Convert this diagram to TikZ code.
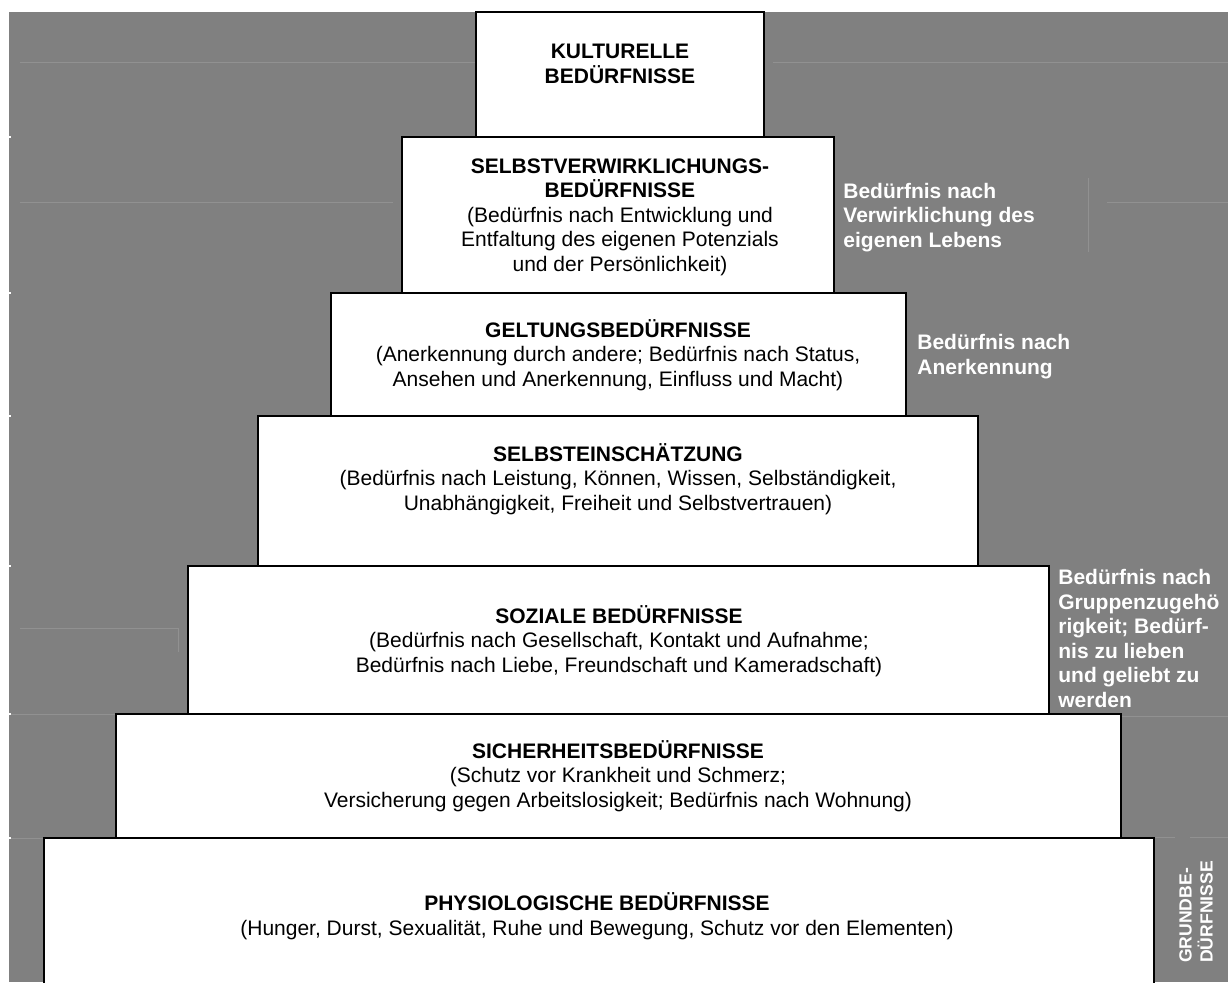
\documentclass[tikz,border=0pt]{standalone}
\usepackage{fontspec}
\setmainfont{Liberation Sans}
\definecolor{hintergrund}{gray}{0.5}
\definecolor{haarlinie}{gray}{0.57}
\tikzset{
  stufe/.style={draw=black, line width=0.75pt, fill=white},
  titel/.style={anchor=base, align=center, inner sep=0pt, font=\fontsize{10.5}{12.25}\selectfont},
  randtext/.style={anchor=base west, align=left, inner sep=0pt, text=white, font=\fontsize{10.5}{12.25}\selectfont\bfseries},
  haar/.style={draw=haarlinie, line width=0.5pt},
  kerbe/.style={draw=white, line width=0.6pt},
}

\begin{document}
\begin{tikzpicture}[x=0.5pt,y=-0.5pt]
            \useasboundingbox (0,0) rectangle (1228,982);

            %Background
            \fill[hintergrund] (9,12) rectangle (1228,982);
            \draw[haar] (20,62)    -- (476,62);
            \draw[haar] (773,62)   -- (1228,62);
            \draw[haar] (20,202)   -- (393,202);
            \draw[haar] (1107,202) -- (1228,202);
            \draw[haar] (1088,178) -- (1088,252);
            \draw[haar] (20,628)   -- (178,628) -- (178,652);
            \draw[haar] (9,714)    -- (116,714);
            \draw[haar] (1049,716) -- (1228,716);
            \draw[haar] (9,838)    -- (44,838);
            \draw[haar] (1154,837) -- (1175,837);
            \draw[haar] (1190,837) -- (1228,837);
            \foreach \y in {137,293,416,566,714,838}
                \draw[kerbe] (9,\y) -- (11,\y);

            %Boxes
            \draw[stufe] (476,12)  rectangle (764,137);
            \draw[stufe] (402,137) rectangle (834,293);
            \draw[stufe] (331,293) rectangle (906,416);
            \draw[stufe] (258,416) rectangle (978,566);
            \draw[stufe] (188,566) rectangle (1049,714);
            \draw[stufe] (116,714) rectangle (1121,838);
            \draw[stufe] (44,838)  rectangle (1154,995);

            %Texts (placed at the baseline of their last line)
            \node[titel] at (620,83)  (kultur)  {\textbf{KULTURELLE}\\\textbf{BEDÜRFNISSE}};
            \node[titel] at (620,271) (selbstv) {\textbf{SELBSTVERWIRKLICHUNGS-}\\\textbf{BEDÜRFNISSE}\\(Bedürfnis nach Entwicklung und\\Entfaltung des eigenen Potenzials\\und der Persönlichkeit)};
            \node[titel] at (618,386) (geltung) {\textbf{GELTUNGSBEDÜRFNISSE}\\(Anerkennung durch andere; Bedürfnis nach Status,\\Ansehen und Anerkennung, Einfluss und Macht)};
            \node[titel] at (618,510) (selbste) {\textbf{SELBSTEINSCHÄTZUNG}\\(Bedürfnis nach Leistung, Können, Wissen, Selbständigkeit,\\Unabhängigkeit, Freiheit und Selbstvertrauen)};
            \node[titel] at (619,672) (sozial)  {\textbf{SOZIALE BEDÜRFNISSE}\\(Bedürfnis nach Gesellschaft, Kontakt und Aufnahme;\\Bedürfnis nach Liebe, Freundschaft und Kameradschaft)};
            \node[titel] at (618,807) (sicher)  {\textbf{SICHERHEITSBEDÜRFNISSE}\\(Schutz vor Krankheit und Schmerz;\\Versicherung gegen Arbeitslosigkeit; Bedürfnis nach Wohnung)};
            \node[titel] at (597,935) (physio)  {\textbf{PHYSIOLOGISCHE BEDÜRFNISSE}\\(Hunger, Durst, Sexualität, Ruhe und Bewegung, Schutz vor den Elementen)};

            %Side labels
            \node[randtext] at (843,247)  (verwirkl) {Bedürfnis nach\\Verwirklichung des\\eigenen Lebens};
            \node[randtext] at (917,374)  (anerk)    {Bedürfnis nach\\Anerkennung};
            \node[randtext] at (1058,707) (gruppe)   {Bedürfnis nach\\Gruppenzugehö\\rigkeit; Bedürf-\\nis zu lieben\\und geliebt zu\\werden};
            \node[randtext, anchor=center, rotate=90, font=\fontsize{8.8}{10.5}\selectfont\bfseries]
                at (1196,912) (grund) {GRUNDBE-\\DÜRFNISSE};
        \end{tikzpicture}
\end{document}
